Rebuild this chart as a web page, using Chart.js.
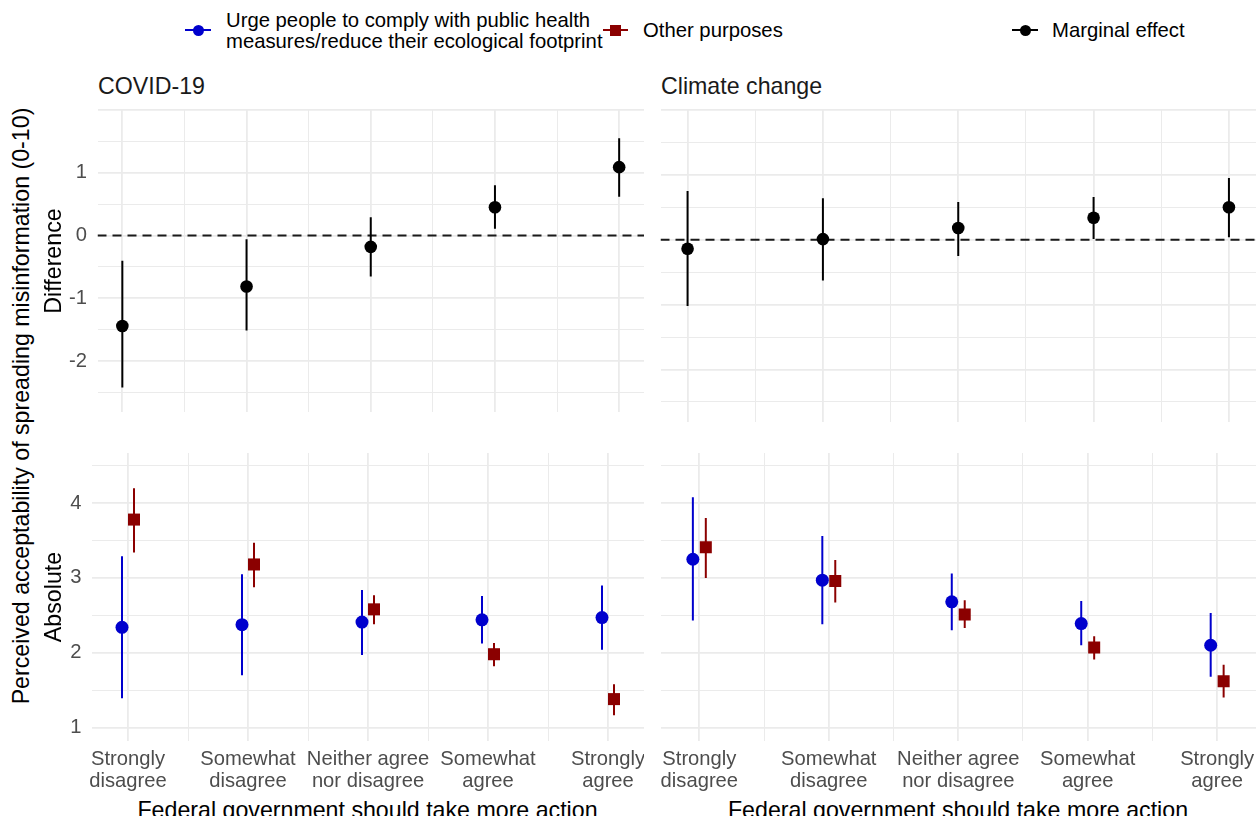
<!DOCTYPE html>
<html>
<head>
<meta charset="utf-8">
<script src="https://cdn.jsdelivr.net/npm/chart.js@4.4.1/dist/chart.umd.min.js"></script>
<style>
  body { margin: 0; background: #fff; }
  #page { position: relative; width: 1256px; height: 816px; overflow: hidden;
          font-family: "Liberation Sans", Arial, sans-serif; }
  canvas { position: absolute; }
  .t { position: absolute; white-space: nowrap; line-height: 1; }
  .strip { font-size: 23.2px; color: #1a1a1a; }
  .axtitle { font-size: 23.2px; color: #000; }
  .rot { transform: translate(-50%, -50%) rotate(-90deg); }
  .key { position: absolute; font-size: 20.3px; line-height: 21px; color: #000; white-space: nowrap; }
  .kline { position: absolute; height: 2px; }
  .kdot { position: absolute; width: 11px; height: 11px; border-radius: 50%; }
  .ksq { position: absolute; width: 11px; height: 11px; }
</style>
</head>
<body>
<div id="page">
  <!-- legend -->
  <div class="kline" style="left:185px;top:29px;width:26px;background:#0000CD"></div>
  <div class="kdot" style="left:192.5px;top:24.5px;background:#0000CD"></div>
  <div class="key" style="left:226px;top:9.5px">Urge people to comply with public health<br>measures/reduce their ecological footprint</div>

  <div class="kline" style="left:603px;top:29px;width:25px;background:#8B0000"></div>
  <div class="ksq" style="left:609.5px;top:24.5px;background:#8B0000"></div>
  <div class="key" style="left:643px;top:19.5px">Other purposes</div>

  <div class="kline" style="left:1012px;top:29px;width:26px;background:#000"></div>
  <div class="kdot" style="left:1019.5px;top:24.5px;background:#000"></div>
  <div class="key" style="left:1052px;top:20px">Marginal effect</div>

  <!-- facet strips -->
  <div class="t strip" id="strip0" style="left:98px;top:74.5px"></div>
  <div class="t strip" id="strip1" style="left:661px;top:74.5px"></div>

  <!-- panels -->
  <canvas id="covidDiffChart" width="604" height="312" style="left:40px;top:100px"></canvas>
  <canvas id="climateDiffChart" width="596" height="322" style="left:660px;top:100px"></canvas>
  <canvas id="covidAbsChart" width="604" height="350" style="left:40px;top:443px"></canvas>
  <canvas id="climateAbsChart" width="596" height="350" style="left:660px;top:443px"></canvas>

  <!-- axis titles -->
  <div class="t axtitle rot" style="left:22px;top:405.5px">Perceived acceptability of spreading misinformation (0-10)</div>
  <div class="t axtitle rot" style="left:53.5px;top:261px">Difference</div>
  <div class="t axtitle rot" style="left:53.5px;top:597px">Absolute</div>
  <div class="t axtitle" style="left:367.5px;top:799px;transform:translateX(-50%)">Federal government should take more action</div>
  <div class="t axtitle" style="left:958px;top:799px;transform:translateX(-50%)">Federal government should take more action</div>
</div>

<script>
const categories = [
  ["Strongly", "disagree"],
  ["Somewhat", "disagree"],
  ["Neither agree", "nor disagree"],
  ["Somewhat", "agree"],
  ["Strongly", "agree"]
];
const facets = ["COVID-19", "Climate change"];

// marginal effect (urge minus other purposes), estimate and 95% CI
const covidDiff   = [-1.44, -0.81, -0.18, 0.45, 1.09];
const covidDiffLo = [-2.42, -1.51, -0.65, 0.11, 0.62];
const covidDiffHi = [-0.40, -0.06, 0.29, 0.80, 1.55];

const climateDiff   = [-0.14, 0.01, 0.18, 0.34, 0.50];
const climateDiffLo = [-1.02, -0.63, -0.25, 0.01, 0.04];
const climateDiffHi = [0.75, 0.64, 0.58, 0.66, 0.95];

// absolute acceptability per purpose
const covidUrge    = [2.34, 2.375, 2.41, 2.44, 2.47];
const covidUrgeLo  = [1.39, 1.70, 1.97, 2.125, 2.04];
const covidUrgeHi  = [3.29, 3.05, 2.84, 2.76, 2.90];
const covidOther   = [3.78, 3.18, 2.58, 1.98, 1.38];
const covidOtherLo = [3.34, 2.875, 2.38, 1.82, 1.165];
const covidOtherHi = [4.20, 3.47, 2.77, 2.13, 1.58];

const climateUrge    = [3.25, 2.97, 2.68, 2.39, 2.10];
const climateUrgeLo  = [2.43, 2.38, 2.30, 2.10, 1.68];
const climateUrgeHi  = [4.08, 3.56, 3.06, 2.69, 2.53];
const climateOther   = [3.41, 2.96, 2.51, 2.07, 1.62];
const climateOtherLo = [3.00, 2.67, 2.33, 1.91, 1.40];
const climateOtherHi = [3.80, 3.24, 2.70, 2.22, 1.84];

// y breaks: labelled values, grid every half unit
const diffTicks = [-2, -1, 0, 1];
const absTicks  = [1, 2, 3, 4];

const blue  = "#0000CD";
const red   = "#8B0000";
const black = "#000000";
const tickGrey = "#4D4D4D";
const gridGrey = "#EBEBEB";
const fontFamily = "'Liberation Sans', Arial, sans-serif";

document.getElementById("strip0").textContent = facets[0];
document.getElementById("strip1").textContent = facets[1];

function halfSteps(from, to) {
  const out = [];
  for (let v = from; v <= to + 1e-9; v += 0.5) out.push(Math.round(v * 10) / 10);
  return out;
}

// linerange: one segment per category, broken by null points
function rangeData(lo, hi, dodge) {
  const pts = [];
  lo.forEach((l, i) => {
    pts.push({ x: i + dodge, y: l }, { x: i + dodge, y: hi[i] }, { x: i + dodge, y: null });
  });
  return pts;
}

function pointData(vals, dodge) {
  return vals.map((v, i) => ({ x: i + dodge, y: v }));
}

function rangeSet(lo, hi, dodge, color, order) {
  return {
    data: rangeData(lo, hi, dodge),
    borderColor: color,
    borderWidth: 2,
    pointRadius: 0,
    spanGaps: false,
    order: order
  };
}

function pointSet(vals, dodge, color, style, radius, order) {
  return {
    data: pointData(vals, dodge),
    showLine: false,
    pointStyle: style,
    pointRadius: radius,
    pointBackgroundColor: color,
    pointBorderWidth: 0,
    order: order
  };
}

// keep the plot area fixed: no extra room for edge labels
function fixAxis(axis, size) {
  if (axis.isHorizontal()) axis.height = size;
  else axis.width = size;
  axis.paddingTop = 0;
  axis.paddingBottom = 0;
  axis.paddingLeft = 0;
  axis.paddingRight = 0;
}

function gridWidth(c) {
  return Number.isInteger(c.tick.value) ? 1.8 : 1;
}

function makePanel(id, cfg) {
  const ctx = document.getElementById(id).getContext("2d");
  const yGrid = halfSteps(cfg.yGridFrom, cfg.yGridTo);
  return new Chart(ctx, {
    type: "line",
    data: { datasets: cfg.datasets },
    options: {
      responsive: false,
      animation: false,
      events: [],
      layout: { autoPadding: false, padding: { top: cfg.padTop, left: 0, right: 0, bottom: 0 } },
      plugins: { legend: { display: false }, tooltip: { enabled: false } },
      scales: {
        x: {
          type: "linear",
          min: cfg.xMin,
          max: cfg.xMax,
          afterBuildTicks: axis => { axis.ticks = halfSteps(0, 4).map(v => ({ value: v })); },
          afterFit: axis => fixAxis(axis, cfg.xHeight),
          border: { display: false },
          grid: { drawTicks: false, color: gridGrey, lineWidth: gridWidth },
          ticks: {
            display: cfg.xLabels,
            autoSkip: false,
            maxRotation: 0,
            minRotation: 0,
            padding: 7,
            color: tickGrey,
            font: { family: fontFamily, size: 20.2, lineHeight: 1.09 },
            callback: v => Number.isInteger(v) ? categories[v] : ""
          }
        },
        y: {
          type: "linear",
          min: cfg.yMin,
          max: cfg.yMax,
          afterBuildTicks: axis => { axis.ticks = yGrid.map(v => ({ value: v })); },
          afterFit: axis => fixAxis(axis, cfg.yWidth),
          border: { display: false },
          grid: { drawTicks: false, color: gridGrey, lineWidth: gridWidth },
          ticks: {
            display: cfg.yLabels,
            padding: 10.5,
            color: tickGrey,
            font: { family: fontFamily, size: 20.2 },
            callback: v => cfg.yTicks.includes(v) ? String(v) : ""
          }
        }
      }
    }
  });
}

function zeroLine(xMin, xMax) {
  return {
    data: [{ x: xMin, y: 0 }, { x: xMax, y: 0 }],
    borderColor: "#1a1a1a",
    borderWidth: 2,
    borderDash: [9, 6],
    pointRadius: 0,
    order: 10
  };
}

// top row: marginal effects
makePanel("covidDiffChart", {
  xMin: -0.2, xMax: 4.2, yMin: -2.81, yMax: 2.0,
  yGridFrom: -2.5, yGridTo: 2.0, yTicks: diffTicks,
  padTop: 10, xHeight: 0, yWidth: 57.5, xLabels: false, yLabels: true,
  datasets: [
    zeroLine(-0.2, 4.2),
    rangeSet(covidDiffLo, covidDiffHi, 0, black, 5),
    pointSet(covidDiff, 0, black, "circle", 6.3, 4)
  ]
});

makePanel("climateDiffChart", {
  xMin: -0.2, xMax: 4.2, yMin: -2.81, yMax: 2.0,
  yGridFrom: -2.5, yGridTo: 2.0, yTicks: diffTicks,
  padTop: 10, xHeight: 0, yWidth: 0.5, xLabels: false, yLabels: false,
  datasets: [
    zeroLine(-0.2, 4.2),
    rangeSet(climateDiffLo, climateDiffHi, 0, black, 5),
    pointSet(climateDiff, 0, black, "circle", 6.3, 4)
  ]
});

// bottom row: absolute values, dodged by purpose
makePanel("covidAbsChart", {
  xMin: -0.3, xMax: 4.3, yMin: 0.82, yMax: 4.67,
  yGridFrom: 1, yGridTo: 4.5, yTicks: absTicks,
  padTop: 10, xHeight: 52, yWidth: 52, xLabels: true, yLabels: true,
  datasets: [
    rangeSet(covidUrgeLo, covidUrgeHi, -0.05, blue, 8),
    pointSet(covidUrge, -0.05, blue, "circle", 6.5, 7),
    rangeSet(covidOtherLo, covidOtherHi, 0.05, red, 6),
    pointSet(covidOther, 0.05, red, "rect", 8.5, 5)
  ]
});

makePanel("climateAbsChart", {
  xMin: -0.3, xMax: 4.3, yMin: 0.82, yMax: 4.67,
  yGridFrom: 1, yGridTo: 4.5, yTicks: absTicks,
  padTop: 10, xHeight: 52, yWidth: 0.5, xLabels: true, yLabels: false,
  datasets: [
    rangeSet(climateUrgeLo, climateUrgeHi, -0.05, blue, 8),
    pointSet(climateUrge, -0.05, blue, "circle", 6.5, 7),
    rangeSet(climateOtherLo, climateOtherHi, 0.05, red, 6),
    pointSet(climateOther, 0.05, red, "rect", 8.5, 5)
  ]
});
</script>
</body>
</html>
